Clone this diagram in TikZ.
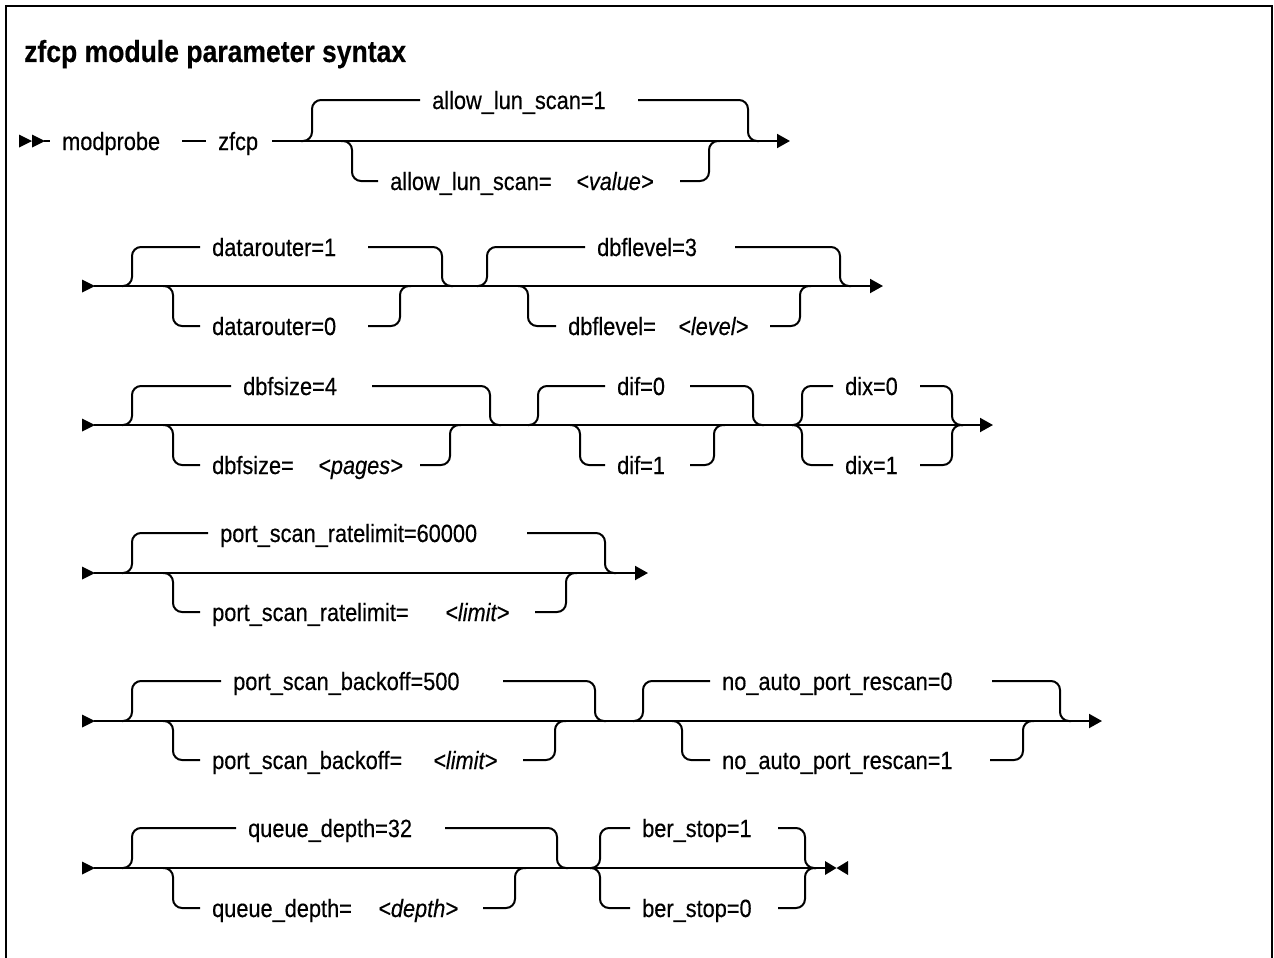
\documentclass[tikz,border=0pt]{standalone}
\usepackage{fontspec}
\setmainfont{Liberation Sans}[FakeStretch=0.87, FakeBold=0.4]
\usetikzlibrary{arrows.meta}
\tikzset{
  rr/.style={line width=2pt, rounded corners=9pt},
  mainline/.style={line width=2pt},
  endarrow/.style={-{Triangle[length=13pt,width=14pt]}},
  lab/.style={anchor=west, inner xsep=12pt, inner ysep=0pt, text height=18.5pt, text depth=0.5pt, font=\fontsize{25}{30}\selectfont},
  vlab/.style={lab, font=\fontsize{25}{30}\selectfont\itshape},
  tip/.style={fill=black},
}
\begin{document}
\begin{tikzpicture}[x=1pt,y=-1pt]
\useasboundingbox (0,0) rectangle (1274,958);
\draw[line width=2.5pt] (6,958) -- (6,6) -- (1272,6) -- (1272,958);
\node[anchor=base west, inner sep=0pt, font=\bfseries\fontsize{30.5}{36}\selectfont] (title) at (24,62) {zfcp module parameter syntax};

% ---------- Row 1 ----------
\fill[tip] (19,134.5) -- (32,141) -- (19,147.5) -- cycle;
\fill[tip] (32,134.5) -- (45,141) -- (32,147.5) -- cycle;
\node[lab] (mod) at (50,141) {modprobe};
\node[lab] (zf) at (206,141) {zfcp};
\coordinate (s1) at (44,141);
\draw[mainline] (s1) -- (mod.west);
\coordinate (m1) at (182,141);
\draw[mainline] (m1) -- (zf.west);
\coordinate (r1s) at (272,141);
\coordinate (r1e) at (790,141);
\draw[mainline,endarrow] (r1s) -- (r1e);
\node[lab] (a1) at (420,100) {allow\_lun\_scan=1};
\draw[rr] (301,141) -- (312,141) -- (312,100) -- (a1.west);
\draw[rr] (638,100) -- (748,100) -- (748,141) -- (759,141);
\node[lab] (a2) at (378,181) {allow\_lun\_scan=};
\node[vlab] (a2v) at (564,181) {<value>};
\draw[rr] (341,141) -- (352,141) -- (352,181) -- (a2.west);
\draw[rr] (680,181) -- (709,181) -- (709,141) -- (720,141);

% ---------- Row 2 ----------
\fill[tip] (82,279.5) -- (95,286) -- (82,292.5) -- cycle;
\coordinate (r2s) at (94,286);
\coordinate (r2e) at (883,286);
\draw[mainline,endarrow] (r2s) -- (r2e);
\node[lab] (b1) at (200,247) {datarouter=1};
\draw[rr] (122,286) -- (132,286) -- (132,247) -- (b1.west);
\draw[rr] (368,247) -- (442,247) -- (442,286) -- (453,286);
\node[lab] (b2) at (200,326) {datarouter=0};
\draw[rr] (163,286) -- (173,286) -- (173,326) -- (b2.west);
\draw[rr] (368,326) -- (400,326) -- (400,286) -- (411,286);
\node[lab] (b3) at (585,247) {dbflevel=3};
\draw[rr] (477,286) -- (487,286) -- (487,247) -- (b3.west);
\draw[rr] (735,247) -- (840,247) -- (840,286) -- (851,286);
\node[lab] (b4) at (556,326) {dbflevel=};
\node[vlab] (b4v) at (666,326) {<level>};
\draw[rr] (518,286) -- (528,286) -- (528,326) -- (b4.west);
\draw[rr] (770,326) -- (800,326) -- (800,286) -- (811,286);

% ---------- Row 3 ----------
\fill[tip] (82,418.5) -- (95,425) -- (82,431.5) -- cycle;
\coordinate (r3s) at (94,425);
\coordinate (r3e) at (993,425);
\draw[mainline,endarrow] (r3s) -- (r3e);
\node[lab] (c1) at (231,386) {dbfsize=4};
\draw[rr] (122,425) -- (132,425) -- (132,386) -- (c1.west);
\draw[rr] (372,386) -- (490,386) -- (490,425) -- (501,425);
\node[lab] (c2) at (200,465) {dbfsize=};
\node[vlab] (c2v) at (306,465) {<pages>};
\draw[rr] (163,425) -- (173,425) -- (173,465) -- (c2.west);
\draw[rr] (420,465) -- (450,465) -- (450,425) -- (461,425);
\node[lab] (c3) at (605,386) {dif=0};
\draw[rr] (528,425) -- (538,425) -- (538,386) -- (c3.west);
\draw[rr] (690,386) -- (753,386) -- (753,425) -- (764,425);
\node[lab] (c4) at (605,465) {dif=1};
\draw[rr] (570,425) -- (580,425) -- (580,465) -- (c4.west);
\draw[rr] (690,465) -- (714,465) -- (714,425) -- (725,425);
\node[lab] (c5) at (833,386) {dix=0};
\draw[rr] (792,425) -- (802,425) -- (802,386) -- (c5.west);
\draw[rr] (920,386) -- (952,386) -- (952,425) -- (963,425);
\node[lab] (c6) at (833,465) {dix=1};
\draw[rr] (792,425) -- (802,425) -- (802,465) -- (c6.west);
\draw[rr] (920,465) -- (952,465) -- (952,425) -- (963,425);

% ---------- Row 4 ----------
\fill[tip] (82,566.5) -- (95,573) -- (82,579.5) -- cycle;
\coordinate (r4s) at (94,573);
\coordinate (r4e) at (648,573);
\draw[mainline,endarrow] (r4s) -- (r4e);
\node[lab] (d1) at (208,533) {port\_scan\_ratelimit=60000};
\draw[rr] (122,573) -- (132,573) -- (132,533) -- (d1.west);
\draw[rr] (527,533) -- (605,533) -- (605,573) -- (616,573);
\node[lab] (d2) at (200,612) {port\_scan\_ratelimit=};
\node[vlab] (d2v) at (433,612) {<limit>};
\draw[rr] (163,573) -- (173,573) -- (173,612) -- (d2.west);
\draw[rr] (535,612) -- (566,612) -- (566,573) -- (577,573);

% ---------- Row 5 ----------
\fill[tip] (82,714.5) -- (95,721) -- (82,727.5) -- cycle;
\coordinate (r5s) at (94,721);
\coordinate (r5e) at (1102,721);
\draw[mainline,endarrow] (r5s) -- (r5e);
\node[lab] (e1) at (221,681) {port\_scan\_backoff=500};
\draw[rr] (122,721) -- (132,721) -- (132,681) -- (e1.west);
\draw[rr] (503,681) -- (595,681) -- (595,721) -- (606,721);
\node[lab] (e2) at (200,760) {port\_scan\_backoff=};
\node[vlab] (e2v) at (421,760) {<limit>};
\draw[rr] (163,721) -- (173,721) -- (173,760) -- (e2.west);
\draw[rr] (523,760) -- (555,760) -- (555,721) -- (566,721);
\node[lab] (e3) at (710,681) {no\_auto\_port\_rescan=0};
\draw[rr] (633,721) -- (643,721) -- (643,681) -- (e3.west);
\draw[rr] (992,681) -- (1060,681) -- (1060,721) -- (1071,721);
\node[lab] (e4) at (710,760) {no\_auto\_port\_rescan=1};
\draw[rr] (672,721) -- (682,721) -- (682,760) -- (e4.west);
\draw[rr] (990,760) -- (1023,760) -- (1023,721) -- (1034,721);

% ---------- Row 6 ----------
\fill[tip] (82,861.5) -- (95,868) -- (82,874.5) -- cycle;
\coordinate (r6s) at (94,868);
\coordinate (r6e) at (826,868);
\draw[mainline] (r6s) -- (r6e);
\fill[tip] (825,861) -- (836.5,868) -- (825,875) -- cycle;
\fill[tip] (848,861) -- (836.5,868) -- (848,875) -- cycle;
\node[lab] (f1) at (236,828) {queue\_depth=32};
\draw[rr] (122,868) -- (132,868) -- (132,828) -- (f1.west);
\draw[rr] (445,828) -- (557,828) -- (557,868) -- (568,868);
\node[lab] (f2) at (200,908) {queue\_depth=};
\node[vlab] (f2v) at (366,908) {<depth>};
\draw[rr] (163,868) -- (173,868) -- (173,908) -- (f2.west);
\draw[rr] (483,908) -- (515,908) -- (515,868) -- (526,868);
\node[lab] (f3) at (630,828) {ber\_stop=1};
\draw[rr] (590,868) -- (600,868) -- (600,828) -- (f3.west);
\draw[rr] (778,828) -- (805,828) -- (805,868) -- (816,868);
\node[lab] (f4) at (630,908) {ber\_stop=0};
\draw[rr] (590,868) -- (600,868) -- (600,908) -- (f4.west);
\draw[rr] (778,908) -- (805,908) -- (805,868) -- (816,868);
\end{tikzpicture}
\end{document}
